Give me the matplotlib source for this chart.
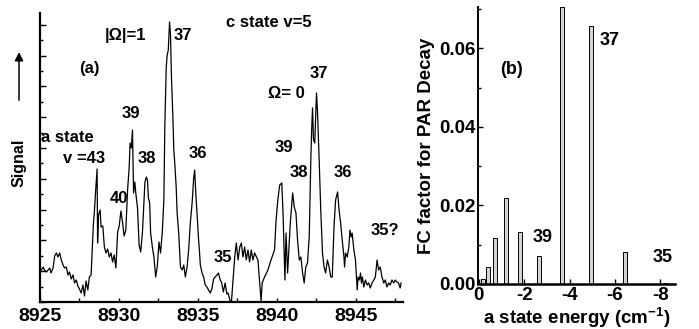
import matplotlib
matplotlib.use("Agg")
import matplotlib.pyplot as plt
from matplotlib.ticker import MultipleLocator, FormatStrFormatter

plt.rcParams['font.family'] = ['Liberation Sans', 'DejaVu Sans']
plt.rcParams['font.weight'] = 'bold'
plt.rcParams['axes.unicode_minus'] = False
plt.rcParams['mathtext.fontset'] = 'custom'
plt.rcParams['mathtext.rm'] = 'Liberation Sans:bold'
plt.rcParams['mathtext.bf'] = 'Liberation Sans:bold'

# ---- (a) excitation spectrum: wavenumber (cm-1) and signal (arb. units) ----
wavenumber = [
    8925.09, 8925.20, 8925.28, 8925.41, 8925.62, 8925.70, 8925.83, 8925.93, 8926.04, 8926.14,
    8926.25, 8926.35, 8926.46, 8926.56, 8926.67, 8926.77, 8926.87, 8926.98, 8927.09, 8927.19,
    8927.30, 8927.40, 8927.50, 8927.61, 8927.72, 8927.82, 8927.92, 8928.03, 8928.13, 8928.24,
    8928.32, 8928.38, 8928.45, 8928.53, 8928.62, 8928.65, 8928.71, 8928.81, 8928.87, 8928.98,
    8929.08, 8929.18, 8929.29, 8929.39, 8929.50, 8929.60, 8929.70, 8929.81, 8929.92, 8930.02,
    8930.13, 8930.23, 8930.33, 8930.44, 8930.55, 8930.65, 8930.71, 8930.79, 8930.86, 8930.93,
    8931.01, 8931.07, 8931.18, 8931.28, 8931.38, 8931.49, 8931.59, 8931.65, 8931.74, 8931.81,
    8931.87, 8931.95, 8932.01, 8932.12, 8932.22, 8932.33, 8932.43, 8932.54, 8932.64, 8932.75,
    8932.85, 8932.91, 8933.00, 8933.06, 8933.13, 8933.21, 8933.27, 8933.33, 8933.42, 8933.48,
    8933.54, 8933.63, 8933.69, 8933.79, 8933.90, 8934.01, 8934.11, 8934.21, 8934.32, 8934.42,
    8934.53, 8934.64, 8934.74, 8934.80, 8934.89, 8934.95, 8935.05, 8935.10, 8935.16, 8935.27,
    8935.37, 8935.47, 8935.58, 8935.68, 8935.79, 8935.89, 8936.00, 8936.10, 8936.21, 8936.31,
    8936.42, 8936.50, 8936.62, 8936.73, 8936.84, 8936.92, 8937.03, 8937.13, 8937.23, 8937.34,
    8937.44, 8937.55, 8937.66, 8937.76, 8937.86, 8937.97, 8938.07, 8938.18, 8938.28, 8938.39,
    8938.49, 8938.60, 8938.81, 8938.91, 8939.01, 8939.08, 8939.23, 8939.44, 8939.64, 8939.86,
    8939.96, 8940.07, 8940.19, 8940.32, 8940.40, 8940.52, 8940.59, 8940.69, 8940.86, 8941.01,
    8941.11, 8941.22, 8941.32, 8941.43, 8941.53, 8941.64, 8941.74, 8941.84, 8941.95, 8942.06,
    8942.16, 8942.22, 8942.27, 8942.33, 8942.41, 8942.52, 8942.58, 8942.69, 8942.79, 8942.90,
    8943.00, 8943.10, 8943.21, 8943.32, 8943.42, 8943.52, 8943.63, 8943.73, 8943.86, 8943.95,
    8944.05, 8944.15, 8944.26, 8944.30, 8944.36, 8944.47, 8944.57, 8944.64, 8944.72, 8944.78,
    8944.89, 8944.99, 8945.05, 8945.10, 8945.16, 8945.24, 8945.31, 8945.37, 8945.43, 8945.52,
    8945.62, 8945.73, 8945.83, 8945.93, 8946.04, 8946.15, 8946.25, 8946.36, 8946.46, 8946.56,
    8946.67, 8946.78, 8946.88, 8946.98, 8947.09, 8947.19, 8947.30, 8947.41, 8947.51, 8947.61,
    8947.72, 8947.82, 8947.88,
]
signal = [
    32, 35, 32, 30, 34, 29, 34, 46, 49, 45,
    49, 42, 37, 34, 35, 27, 30, 23, 27, 19,
    22, 16, 13, 9, 17, 6, 21, 12, 25, 27,
    55, 77, 91, 112, 133, 59, 87, 92, 75, 76,
    55, 49, 53, 45, 49, 40, 47, 34, 70, 76,
    91, 80, 66, 72, 112, 134, 159, 154, 172, 109,
    120, 109, 94, 57, 50, 69, 102, 120, 125, 122,
    104, 99, 69, 55, 45, 25, 35, 60, 49, 70,
    102, 175, 235, 247, 252, 280, 267, 225, 185, 152,
    139, 115, 89, 69, 35, 32, 37, 25, 35, 52,
    80, 99, 124, 132, 104, 89, 62, 52, 37, 29,
    25, 17, 15, 12, 9, 13, 23, 25, 27, 29,
    22, 20, 10, 19, 8, 9, 2, 0, 22, 45,
    59, 42, 55, 59, 45, 55, 42, 52, 40, 52,
    42, 49, 42, 22, 1, 19, 25, 32, 42, 52,
    82, 102, 117, 119, 89, 22, 69, 29, 79, 109,
    95, 89, 62, 42, 45, 29, 19, 35, 39, 65,
    142, 175, 194, 162, 159, 209, 192, 142, 92, 49,
    35, 29, 42, 35, 25, 25, 75, 102, 110, 92,
    79, 62, 45, 35, 49, 45, 55, 72, 65, 69,
    52, 42, 25, 12, 25, 22, 29, 19, 25, 15,
    22, 17, 19, 14, 19, 22, 25, 42, 32, 35,
    25, 19, 22, 15, 19, 17, 22, 19, 22, 20,
    19, 14, 19,
]

# band assignments written on the spectrum
spec_labels = ['|Ω|=1', '37', 'c state v=5', '(a)', '37', 'Ω= 0', '39', 'a state',
               'v =43', '38', '36', '40', '39', '38', '36', '35', '35?']
spec_label_x = [8930.41, 8934.06, 8939.50, 8928.11, 8942.64, 8940.60, 8930.75, 8926.75,
                8927.80, 8931.80, 8935.00, 8930.03, 8940.44, 8941.38, 8944.21, 8936.57, 8946.86]
spec_label_y = [262, 262, 275, 228.5, 223.7, 203.7, 183.7, 160.3,
                138.7, 138.7, 143.7, 98.7, 150.3, 125.3, 125.3, 40.3, 67]

# ---- (b) Franck-Condon factors versus a-state energy ----
energy = [-0.19, -0.41, -0.72, -1.19, -1.82, -2.65, -3.66, -4.94, -6.46, -8.20]
fc_factor = [0.0012, 0.0042, 0.0117, 0.0219, 0.0133, 0.0070, 0.0704, 0.0657, 0.0081, 0.0003]

fc_labels = ['37', '39', '35', '(b)']
fc_label_x = [-5.78, -2.82, -8.12, -1.46]
fc_label_y = [0.0608, 0.0108, 0.0057, 0.0535]

fig = plt.figure(figsize=(6.99, 3.29), dpi=100)

# ---------------- panel (a) ----------------
ax1 = fig.add_axes([0.0572, 0.0821, 0.5193, 0.8784])
ax1.plot(wavenumber, signal, color='black', lw=0.9)
ax1.set_xlim(8925.0, 8948.0)
ax1.set_ylim(0, 289)
for side in ('top', 'right'):
    ax1.spines[side].set_visible(False)
for side in ('left', 'bottom'):
    ax1.spines[side].set_linewidth(1.6)
ax1.xaxis.set_major_locator(MultipleLocator(5))
ax1.xaxis.set_minor_locator(MultipleLocator(2.5))
ax1.yaxis.set_major_locator(MultipleLocator(30.8))
ax1.yaxis.set_minor_locator(MultipleLocator(15.4))
ax1.tick_params(axis='x', which='both', direction='in', length=3, width=1,
                labelsize=14, pad=4)
ax1.tick_params(axis='y', which='major', direction='in', length=4, width=1)
ax1.tick_params(axis='y', which='minor', direction='in', length=2.5, width=1)
ax1.tick_params(axis='y', which='both', labelleft=False)
for label in ax1.get_xticklabels():
    label.set_fontweight('bold')

for t, x, y in zip(spec_labels, spec_label_x, spec_label_y):
    ax1.text(x, y, t, ha='center', va='baseline', fontsize=12, fontweight='bold')

# y-axis legend: "Signal" with an upward arrow
fig.text(0.0272, 0.505, 'Signal', rotation=90, ha='center', va='center',
         fontsize=11.5, fontweight='bold')
fig.add_artist(matplotlib.patches.FancyArrowPatch(
    (0.0272, 0.687), (0.0272, 0.85), transform=fig.transFigure,
    arrowstyle='-|>,head_length=5,head_width=2.5', color='black', lw=1.1))

# ---------------- panel (b) ----------------
ax2 = fig.add_axes([0.6838, 0.1368, 0.2818, 0.842])
ax2.bar(energy, fc_factor, width=0.17, color='#d4d4d4', edgecolor='black',
        linewidth=0.7)
ax2.set_xlim(0.04, -8.65)
ax2.set_ylim(0, 0.0705)
for side in ('top', 'right'):
    ax2.spines[side].set_visible(False)
ax2.spines['left'].set_linewidth(1.4)
ax2.spines['bottom'].set_linewidth(1.8)
ax2.xaxis.set_major_locator(MultipleLocator(2))
ax2.xaxis.set_major_formatter(FormatStrFormatter('%d'))
ax2.yaxis.set_major_locator(MultipleLocator(0.02))
ax2.yaxis.set_minor_locator(MultipleLocator(0.01))
ax2.yaxis.set_major_formatter(FormatStrFormatter('%.2f'))
ax2.tick_params(axis='both', which='major', direction='in', length=3.5, width=1,
                labelsize=13.5, pad=2)
ax2.tick_params(axis='y', which='minor', direction='in', length=2.5, width=1)
for label in ax2.get_xticklabels() + ax2.get_yticklabels():
    label.set_fontweight('bold')
ax2.set_ylabel('FC factor for PAR Decay', fontsize=13.5, fontweight='bold', labelpad=3)
ax2.set_xlabel(r'a state energy (cm$^{-1}$)', fontsize=13.5, fontweight='bold',
               labelpad=1)

for t, x, y in zip(fc_labels, fc_label_x, fc_label_y):
    ax2.text(x, y, t, ha='center', va='baseline', fontsize=13, fontweight='bold')

fig.savefig('out.png', dpi=100)
